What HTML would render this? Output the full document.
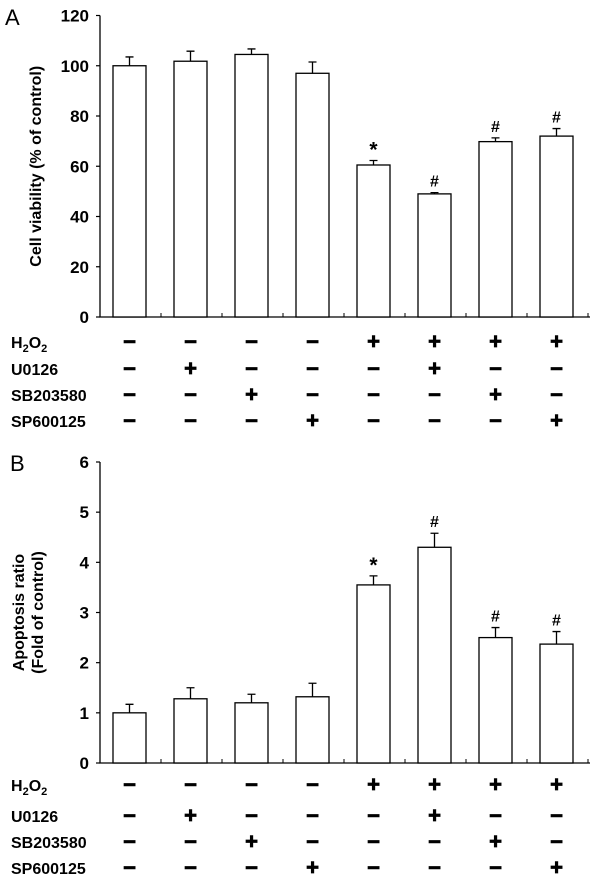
<!DOCTYPE html>
<html><head><meta charset="utf-8"><style>
body{margin:0;background:#fff;width:600px;height:889px;overflow:hidden}
svg text{font-family:"Liberation Sans",Arial,sans-serif;font-weight:bold;fill:#000}
</style></head><body>
<svg id="chart" width="600" height="889" xmlns="http://www.w3.org/2000/svg"></svg>
<script>
const groups=["1","2","3","4","5","6","7","8"];
const valuesA=[100,101.8,104.5,97,60.5,49,69.8,72];
const errorsA=[3.5,4,2.2,4.5,1.8,0.5,1.5,3];
const marksA=["","","","","*","#","#","#"];
const ticksA=[0,20,40,60,80,100,120];
const valuesB=[1.0,1.28,1.2,1.32,3.55,4.3,2.5,2.37];
const errorsB=[0.17,0.22,0.17,0.27,0.18,0.28,0.2,0.25];
const marksB=["","","","","*","#","#","#"];
const ticksB=[0,1,2,3,4,5,6];
const rowNames=["H2O2","U0126","SB203580","SP600125"];
const h2o2=[0,0,0,0,1,1,1,1];
const u0126=[0,1,0,0,0,1,0,0];
const sb=[0,0,1,0,0,0,1,0];
const sp=[0,0,0,1,0,0,0,1];
const treat=[h2o2,u0126,sb,sp];

const svg=document.getElementById('chart');
const NS='http://www.w3.org/2000/svg';
function mk(tag,attrs,parent){const e=document.createElementNS(NS,tag);for(const k in attrs)e.setAttribute(k,attrs[k]);(parent||svg).appendChild(e);return e;}
function xCenter(i){return 129.5+61*i;}

function panel(cfg){
  const g=mk('g',{});
  
  
  const y=v=>cfg.y0-(v-cfg.min)/(cfg.max-cfg.min)*(cfg.y0-cfg.yTop);
  const lt=mk('text',{x:cfg.letterX,y:cfg.letterY,'font-size':22,style:'font-weight:normal'},g);
  lt.textContent=cfg.letter;
  
  
  const ax=mk('path',{d:`M100,${cfg.yTop} V${cfg.y0} H590`,stroke:'#000','stroke-width':1.3,fill:'none'},g);
  
  
  cfg.ticks.forEach(t=>{
    mk('line',{x1:96,x2:100,y1:y(t),y2:y(t),stroke:'#000','stroke-width':1.2},g);
    const tx=mk('text',{x:89,y:y(t)+6,'font-size':17,'text-anchor':'end'},g);
    tx.textContent=t;
    
    
  });
  for(let k=0;k<8;k++){const xt=161+61*k;mk('line',{x1:xt,x2:xt,y1:cfg.y0,y2:cfg.y0-4,stroke:'#000','stroke-width':1},g);}
  cfg.vals.forEach((v,i)=>{
    const cx=xCenter(i);
    const r=mk('rect',{x:cx-16.5,y:y(v),width:33,height:cfg.y0-y(v),fill:'#fff',stroke:'#000','stroke-width':1.3},g);
    
    
    const ye=y(v+cfg.errs[i]);
    const eb=mk('path',{d:`M${cx},${y(v)} V${ye} M${cx-4},${ye} H${cx+4}`,stroke:'#000','stroke-width':1.3,fill:'none'},g);
    
    
    if(cfg.marks[i]){
      const m=mk('text',{x:cx,y:ye-(cfg.marks[i]=='*'?4:6),'font-size':cfg.marks[i]=='*'?21:16,'text-anchor':'middle'},g);
      m.textContent=cfg.marks[i];
      
      
    }
  });
  const yt=mk('text',{transform:`translate(${cfg.titleX},${(cfg.y0+cfg.yTop)/2}) rotate(-90)`,'font-size':16,'text-anchor':'middle'},g);
  cfg.title.forEach((line,j)=>{const ts=mk('tspan',{x:0,dy:j?19:0},yt);ts.textContent=line;});
  
  
  rowNames.forEach((n,r)=>{
    const ry=cfg.rows[r];
    const lab=mk('text',{x:11,y:ry+6,'font-size':16},g);
    if(n==='H2O2'){lab.innerHTML='H<tspan font-size="11" dy="4">2</tspan><tspan dy="-4">O</tspan><tspan font-size="11" dy="4">2</tspan>';}
    else lab.textContent=n;
    
    
    treat[r].forEach((on,i)=>{
      const t=mk('text',{x:xCenter(i),y:ry+(on?7:7),'font-size':on?22:22,'text-anchor':'middle',stroke:'#000','stroke-width':0.8},g);
      t.textContent=on?'+':'−';
      
      
    });
  });
}
panel({name:'panel-a-cell-viability',letter:'A',letterX:5,letterY:25,vals:valuesA,errs:errorsA,marks:marksA,ticks:ticksA,min:0,max:120,y0:317,yTop:15.5,title:['Cell viability (% of control)'],titleX:41,rows:[342,369,395,421]});
panel({name:'panel-b-apoptosis',letter:'B',letterX:10,letterY:471,vals:valuesB,errs:errorsB,marks:marksB,ticks:ticksB,min:0,max:6,y0:763,yTop:462,title:['Apoptosis ratio','(Fold of control)'],titleX:24,rows:[785,816,842,868]});
</script>
</body></html>
